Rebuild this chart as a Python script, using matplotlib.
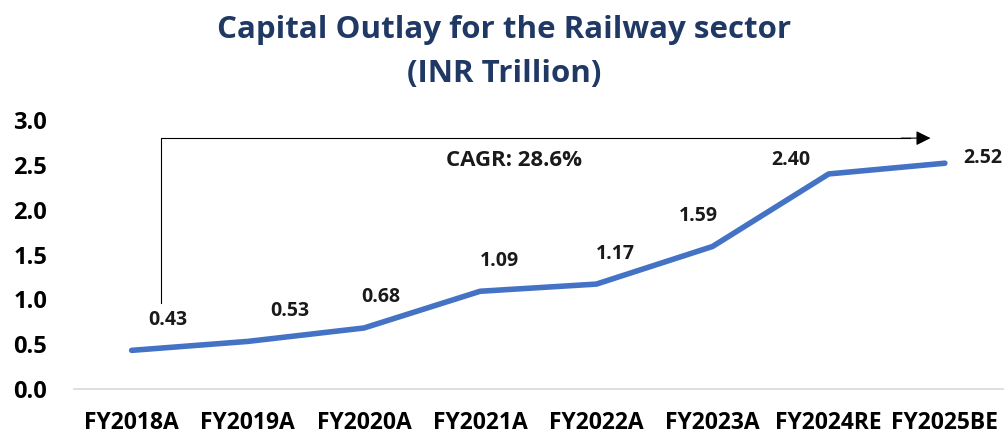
import matplotlib
matplotlib.use("Agg")
from matplotlib import pyplot as plt

years = ["FY2018A", "FY2019A", "FY2020A", "FY2021A", "FY2022A", "FY2023A", "FY2024RE", "FY2025BE"]
outlay = [0.43, 0.53, 0.68, 1.09, 1.17, 1.59, 2.40, 2.52]
yticks = [0.0, 0.5, 1.0, 1.5, 2.0, 2.5, 3.0]

# label offsets in points (dx, dy)
label_off = [(26, 22), (30, 22), (12, 22), (14, 22), (14, 22), (-10, 22), (-27, 10), (27, 4)]

plt.rcParams["font.family"] = ["Open Sans", "DejaVu Sans"]
fig = plt.figure(figsize=(10.08, 4.34), dpi=100)
ax = fig.add_axes([0.073, 0.104, 0.922, 0.619])

x = list(range(len(years)))
ax.plot(x, outlay, color="#4472C4", linewidth=4, solid_capstyle="round", solid_joinstyle="round")

for i, v in enumerate(outlay):
    ax.annotate(f"{v:.2f}", (i, v), xytext=label_off[i], textcoords="offset points",
                ha="center", va="center", fontsize=14, fontweight="bold", color="#1a1a1a")

# CAGR arrow
ax.plot([0.25, 0.25, 6.7], [0.96, 2.80, 2.80], color="black", linewidth=0.8)
ax.annotate("", xy=(6.9, 2.80), xytext=(6.6, 2.80),
            arrowprops=dict(arrowstyle="-|>", color="black", lw=0.8, mutation_scale=22))
ax.text(3.29, 2.55, "CAGR: 28.6%", ha="center", va="center", fontsize=16, fontweight="bold", color="#1a1a1a")

ax.set_xlim(-0.5, 7.5)
ax.set_ylim(0, 3.0)
ax.set_yticks(yticks)
ax.set_yticklabels([f"{t:.1f}" for t in yticks], fontsize=17, fontweight="bold")
ax.set_xticks(x)
ax.set_xticklabels(years, fontsize=16.5, fontweight="bold")
ax.tick_params(length=0)
ax.tick_params(axis="x", pad=16)
ax.tick_params(axis="y", pad=19)
for s in ["top", "right", "left"]:
    ax.spines[s].set_visible(False)
ax.spines["bottom"].set_color("#d9d9d9")
ax.spines["bottom"].set_linewidth(1.2)

fig.text(0.5, 0.93, "Capital Outlay for the Railway sector", ha="center", va="center",
         fontsize=22.5, fontweight="bold", color="#1F3864")
fig.text(0.5, 0.83, "(INR Trillion)", ha="center", va="center",
         fontsize=22.5, fontweight="bold", color="#1F3864")

fig.savefig("out.png", dpi=100)
